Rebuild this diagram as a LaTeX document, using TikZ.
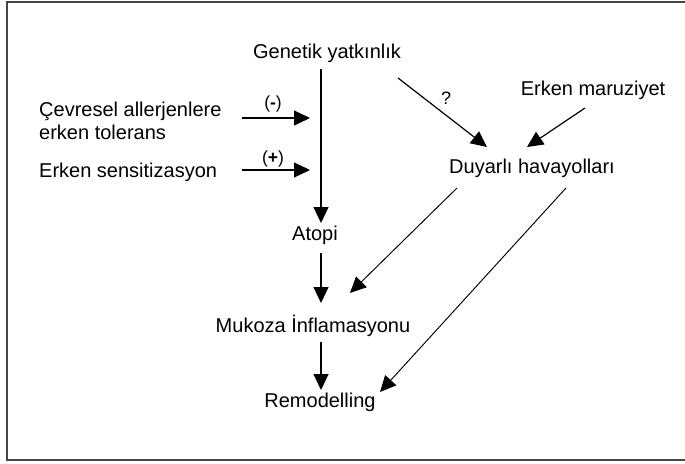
\documentclass[tikz,border=0pt]{standalone}
\usepackage{fontspec}
\setmainfont{Liberation Sans}
\usetikzlibrary{arrows.meta}
\begin{document}
\begin{tikzpicture}[x=1pt,y=-1pt,
  lbl/.style={inner sep=0pt,anchor=base,font=\fontsize{20}{23}\selectfont},
  lbll/.style={inner sep=0pt,anchor=base west,font=\fontsize{20}{23}\selectfont,align=left},
  sgn/.style={inner sep=0pt,anchor=base,font=\fontsize{17.5}{19}\selectfont},
  arr/.style={line width=1.2pt,-{Triangle[length=16pt,width=15pt]}},
  darr/.style={line width=0.95pt,-{Triangle[length=16pt,width=15pt]}},
  frame/.style={line width=2pt,draw=black!72}]
\useasboundingbox (0,0) rectangle (685,463);
\draw[frame] (686,1.5) -- (6.5,1.5) -- (6.5,460) -- (686,460);
% nodes
\node[lbl] (gen) at (327,58) {Genetik yatkınlık};
\node[lbll] (cev) at (39,116) {Çevresel allerjenlere};
\node[lbll] (tol) at (39,139) {erken tolerans};
\node[lbll] (sens) at (39,177) {Erken sensitizasyon};
\node[sgn] (minus) at (273,108) {(\textbf{-})};
\node[sgn] (plus) at (273,163) {(\textbf{+})};
\node[lbl] (atopi) at (315,240) {Atopi};
\node[lbl] (muk) at (313,332) {Mukoza İnflamasyonu};
\node[lbl] (rem) at (320,407) {Remodelling};
\node[lbl] (duy) at (532,173) {Duyarlı havayolları};
\node[lbl] (mar) at (593,95) {Erken maruziyet};
\node[inner sep=0pt,anchor=base,font=\fontsize{18}{20}\selectfont] (q) at (446,104) {?};
% connector end points
\coordinate (genS) at (321,69);
\coordinate (atopiN) at (321,223);
\coordinate (atopiS) at (321,253);
\coordinate (mukN) at (321,303);
\coordinate (mukS) at (321,342);
\coordinate (remN) at (321,390);
\coordinate (cevE) at (242,118);
\coordinate (cevT) at (310,118);
\coordinate (sensE) at (242,170);
\coordinate (sensT) at (310,170);
\coordinate (genSE) at (398,78);
\coordinate (duyNW) at (487,147);
\coordinate (marSW) at (585,108);
\coordinate (duyNE) at (527,147);
\coordinate (duySW) at (457,188);
\coordinate (mukNE) at (350,293);
\coordinate (duySE) at (566,188);
\coordinate (remNE) at (380,392);
% connectors
\draw[arr] (genS) -- (atopiN);
\draw[arr] (atopiS) -- (mukN);
\draw[arr] (mukS) -- (remN);
\draw[arr] (cevE) -- (cevT);
\draw[arr] (sensE) -- (sensT);
\draw[arr] (genSE) -- (duyNW);
\draw[arr] (marSW) -- (duyNE);
\draw[darr] (duySW) -- (mukNE);
\draw[darr] (duySE) -- (remNE);
\end{tikzpicture}
\end{document}
